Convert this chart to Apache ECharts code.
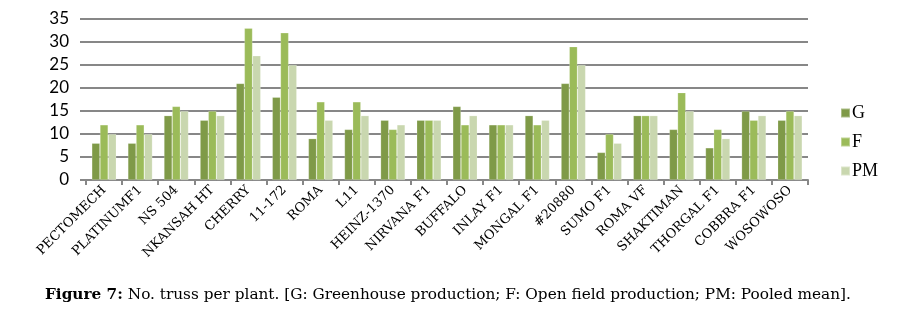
<!DOCTYPE html>
<html>
<head>
<meta charset="utf-8">
<script src="https://cdn.jsdelivr.net/npm/echarts@6/dist/echarts.min.js"></script>
<style>
  html, body { margin: 0; padding: 0; background: #fff; }
  #chart { width: 903px; height: 325px; }
</style>
</head>
<body>
<div id="chart"></div>
<script>
const categories = ['PECTOMECH', 'PLATINUMF1', 'NS 504', 'NKANSAH HT', 'CHERRY', '11-172', 'ROMA', 'L11',
  'HEINZ-1370', 'NIRVANA F1', 'BUFFALO', 'INLAY F1', 'MONGAL F1', '#20880', 'SUMO F1', 'ROMA VF',
  'SHAKTIMAN', 'THORGAL F1', 'COBBRA F1', 'WOSOWOSO']
// G: greenhouse, F: open field, PM: pooled mean
const gValues = [8, 8, 14, 13, 21, 18, 9, 11, 13, 13, 16, 12, 14, 21, 6, 14, 11, 7, 15, 13]
const fValues = [12, 12, 16, 15, 33, 32, 17, 17, 11, 13, 12, 12, 12, 29, 10, 14, 19, 11, 13, 15]
const pmValues = [10, 10, 15, 14, 27, 25, 13, 14, 12, 13, 14, 12, 13, 25, 8, 14, 15, 9, 14, 14]
const yTicks = [0, 5, 10, 15, 20, 25, 30, 35]

const chart = echarts.init(document.getElementById('chart'))

const barSeries = (name, data, color) => ({
  name,
  type: 'bar',
  data,
  barGap: '0%',
  barCategoryGap: '32%',
  itemStyle: { color, borderColor: 'rgba(255,255,255,0.35)', borderWidth: 0.6 }
})

chart.setOption({
  animation: false,
  grid: { left: 86, right: 95, top: 19, bottom: 145 },
  legend: {
    orient: 'vertical',
    left: 835,
    top: 99,
    itemWidth: 9,
    itemHeight: 9,
    itemGap: 11,
    icon: 'rect',
    textStyle: { fontFamily: 'Liberation Serif', fontSize: 18, color: '#000', padding: [0, 0, 0, -3] },
    data: ['G', 'F', 'PM']
  },
  xAxis: {
    type: 'category',
    data: categories,
    axisLine: { lineStyle: { color: '#878787', width: 2 } },
    axisTick: { show: true, length: 5, lineStyle: { color: '#878787', width: 2 } },
    axisLabel: {
      interval: 0,
      rotate: 45,
      margin: 8,
      fontFamily: 'DejaVu Serif',
      fontSize: 13,
      color: '#000'
    }
  },
  yAxis: {
    type: 'value',
    min: yTicks[0],
    max: yTicks[yTicks.length - 1],
    interval: 5,
    axisLine: { show: false },
    axisTick: { show: true, length: 6, lineStyle: { color: '#878787', width: 2 } },
    splitLine: { lineStyle: { color: '#878787', width: 2 } },
    axisLabel: { fontFamily: 'Lato', fontSize: 17, color: '#000', margin: 17 }
  },
  graphic: [{
    type: 'text',
    left: 45,
    top: 288,
    style: {
      text: '{b|Figure 7:} No. truss per plant. [G: Greenhouse production; F: Open field production; PM: Pooled mean].',
      fontFamily: 'DejaVu Serif',
      fontSize: 15.3,
      fill: '#000',
      rich: {
        b: { fontFamily: 'DejaVu Serif', fontSize: 15.3, fontWeight: 'bold', fill: '#000' }
      }
    }
  }],
  series: [
    barSeries('G', gValues, '#7f9a48'),
    barSeries('F', fValues, '#9bbb59'),
    barSeries('PM', pmValues, '#c9d7af')
  ]
})

window.addEventListener('resize', () => chart.resize())
</script>
</body>
</html>
